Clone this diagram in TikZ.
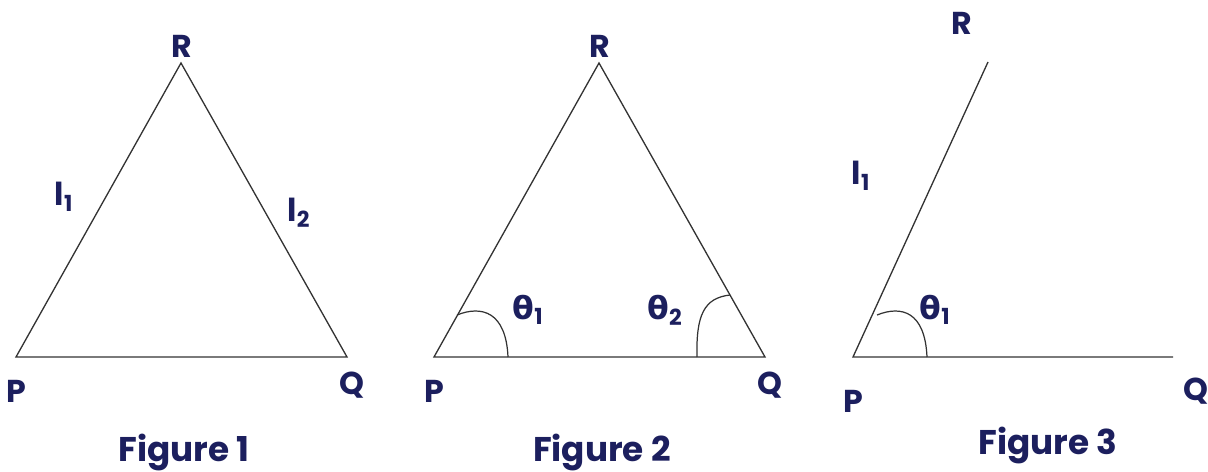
\documentclass[tikz,border=0pt]{standalone}
\usepackage{fontspec}
\setmainfont{Poppins}
\newfontfamily\thetafont{DejaVu Sans}
\usetikzlibrary{positioning}
\definecolor{trinavy}{HTML}{1C1F5E}
\definecolor{triline}{HTML}{333333}
\tikzstyle{trilabel}=[text=trinavy,font=\fontsize{18}{18}\selectfont\bfseries,inner sep=0pt]
\tikzstyle{tricap}=[trilabel,font=\fontsize{19.5}{20}\selectfont\bfseries]
\tikzstyle{triside}=[draw=triline,line width=0.75pt,line join=miter]
\tikzstyle{triarc}=[draw=triline,line width=0.7pt]
\newcommand{\sidelen}[1]{l\textsubscript{#1}}
\newcommand{\anglab}[1]{{\thetafont θ}\textsubscript{#1}}

\begin{document}
\begin{tikzpicture}[x=0.02cm,y=-0.02cm]
    \useasboundingbox (0,0) rectangle (1208,472);
    % figures 1 and 2: the same triangle
    \foreach \s/\k in {0/1,418/2} {
      \coordinate (P\k) at (16+\s,357);
      \coordinate (Q\k) at (347+\s,357);
      \coordinate (R\k) at (181+\s,63);
      \draw[triside] (P\k) -- (Q\k) -- (R\k) -- cycle;
      \node[trilabel] (Rlab\k) at (182+\s,46) {R};
      \node[trilabel] (Plab\k) at (16+\s,391) {P};
      \node[trilabel] (Qlab\k) at (352+\s,385) {Q};
      \node[tricap] (cap\k) at (184+\s,452) {Figure \k};
    }
    \node[trilabel] (side1) at (64,197) {\sidelen{1}};
    \node[trilabel] (side2) at (299,213) {\sidelen{2}};
    % angles of figure 2
    \draw[triarc] (457,315) .. controls (482,305) and (506,312) .. (508,357);
    \draw[triarc] (730,295) .. controls (704,298) and (696,315) .. (697,357);
    \node[trilabel] (ang1) at (528,310) {\anglab{1}};
    \node[trilabel] (ang2) at (665,310) {\anglab{2}};
    % figure 3: open angle
    \coordinate (P3) at (853,357);
    \coordinate (Q3) at (1173,357);
    \coordinate (R3) at (988,62);
    \draw[triside] (R3) -- (P3) -- (Q3);
    \draw[triarc] (877,315) .. controls (902,305) and (925,312) .. (927,357);
    \node[trilabel] (Rlab3) at (962,23) {R};
    \node[trilabel] (Plab3) at (853,401) {P};
    \node[trilabel] (Qlab3) at (1196,391) {Q};
    \node[trilabel] (side3) at (861,176) {\sidelen{1}};
    \node[trilabel] (ang3) at (935,310) {\anglab{1}};
    \node[tricap] (cap3) at (1048,445) {Figure 3};
\end{tikzpicture}
\end{document}
